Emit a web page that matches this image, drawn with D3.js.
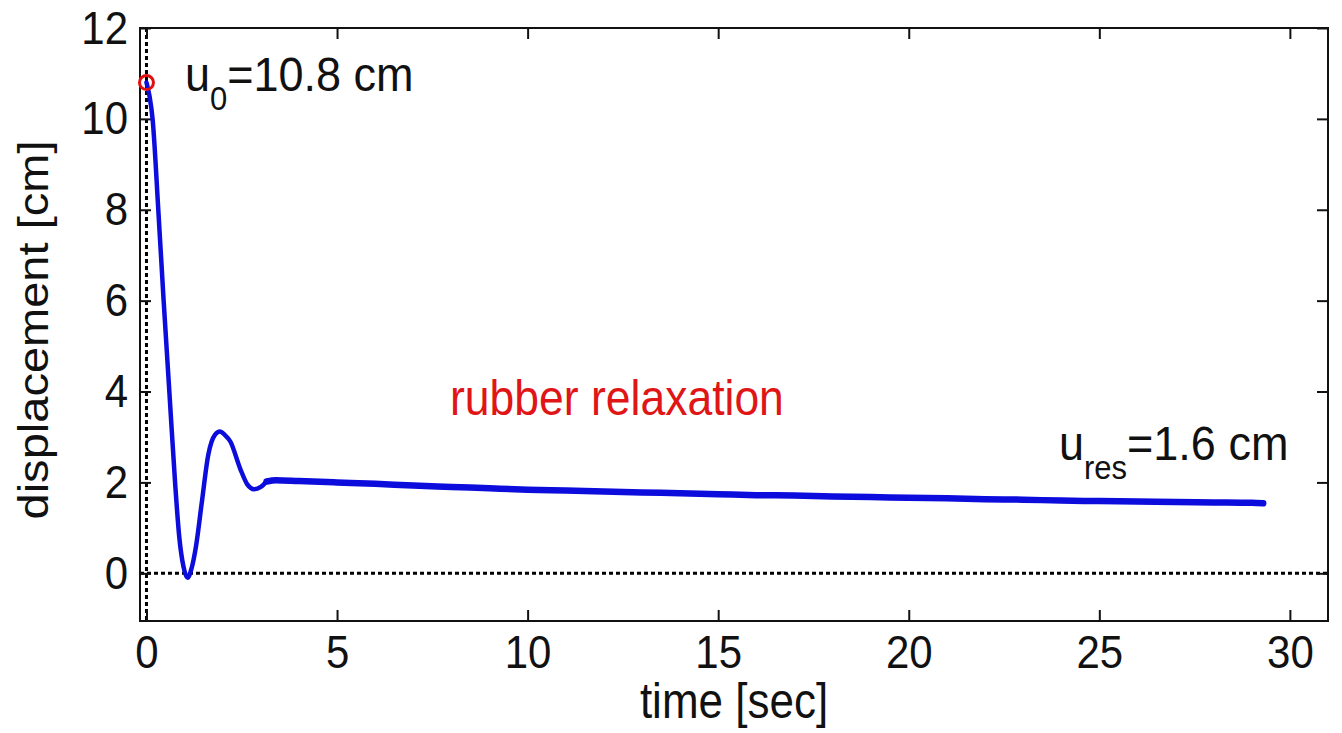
<!DOCTYPE html>
<html>
<head>
<meta charset="utf-8">
<script src="https://cdn.jsdelivr.net/npm/d3@7"></script>
<style>
  body { margin: 0; background: #fff; }
  text { font-family: "Liberation Sans", Arial, sans-serif; fill: #111; }
</style>
</head>
<body>
<div id="chart-area"></div>
<script>
// values
const time = [0, 0.08, 0.16, 0.31, 0.45, 0.60, 0.75, 0.86, 0.97, 1.08, 1.18, 1.30, 1.45, 1.62, 1.80, 1.93,
    2.05, 2.20, 2.46, 2.65, 2.82, 3.0, 3.15, 3.4, 4, 5, 6, 7, 8, 9, 10, 11, 12, 13, 14, 15, 16, 17, 18,
    19, 20, 21, 22, 23, 24, 25, 26, 27, 28, 29, 29.3];
const displacement = [10.8, 10.5, 10.0, 8.0, 6.0, 4.0, 2.0, 0.8, 0.15, -0.1, 0.1, 0.6, 1.55, 2.6, 3.05, 3.12,
    3.05, 2.9, 2.3, 1.95, 1.85, 1.9, 2.02, 2.05, 2.03, 2.0, 1.97, 1.93, 1.9, 1.87, 1.84, 1.82, 1.8, 1.78,
    1.76, 1.74, 1.72, 1.71, 1.69, 1.68, 1.66, 1.65, 1.63, 1.62, 1.6, 1.59, 1.58, 1.57, 1.56, 1.55, 1.54];
const xTicks = [0, 5, 10, 15, 20, 25, 30];
const yTicks = [0, 2, 4, 6, 8, 10, 12];
const startPoint = [0, 10.8];
const settleIndex = 22; // from here on the trace is a noisy band

const w = 1342;
const h = 733;
const plotLeft = 140, plotRight = 1328, plotTop = 28, plotBottom = 621;
const stretch = "scale(1,1.12)";

const xScale = d3.scaleLinear().domain([-0.17, 31.0]).range([plotLeft, plotRight]);
const yScale = d3.scaleLinear().domain([-1.05, 12]).range([plotBottom, plotTop]);

const svg = d3.select("#chart-area")
    .append("svg")
    .attr("width", w)
    .attr("height", h);

// dotted zero lines
svg.append("line")
    .attr("x1", xScale(0)).attr("x2", xScale(0))
    .attr("y1", plotTop).attr("y2", plotBottom)
    .attr("stroke", "#000").attr("stroke-width", 3).attr("stroke-dasharray", "4,3");
svg.append("line")
    .attr("x1", plotLeft).attr("x2", plotRight)
    .attr("y1", yScale(0)).attr("y2", yScale(0))
    .attr("stroke", "#000").attr("stroke-width", 3).attr("stroke-dasharray", "4,3");

// axes, ticks pointing inward
const tick = 11;
const gx = svg.append("g")
    .attr("transform", "translate(0," + plotBottom + ")")
    .call(d3.axisBottom(xScale).tickValues(xTicks).tickSizeInner(-tick).tickSizeOuter(0).tickPadding(0));
gx.selectAll("text")
    .attr("y", null).attr("dy", null)
    .attr("transform", "translate(0,47) " + stretch)
    .style("font-size", "42px");

const gy = svg.append("g")
    .attr("transform", "translate(" + plotLeft + ",0)")
    .call(d3.axisLeft(yScale).tickValues(yTicks).tickSizeInner(-tick).tickSizeOuter(0).tickPadding(12));
gy.selectAll("text")
    .attr("transform", stretch)
    .style("font-size", "42px");

svg.append("g")
    .attr("transform", "translate(0," + plotTop + ")")
    .call(d3.axisTop(xScale).tickValues(xTicks).tickSizeInner(-tick).tickSizeOuter(0).tickFormat(""));
svg.append("g")
    .attr("transform", "translate(" + plotRight + ",0)")
    .call(d3.axisRight(yScale).tickValues(yTicks).tickSizeInner(-tick).tickSizeOuter(0).tickFormat(""));

svg.selectAll(".domain").remove();
svg.selectAll(".tick line").attr("stroke", "#111").attr("stroke-width", 2);

svg.append("rect")
    .attr("x", plotLeft).attr("y", plotTop)
    .attr("width", plotRight - plotLeft).attr("height", plotBottom - plotTop)
    .attr("fill", "none").attr("stroke", "#111").attr("stroke-width", 2);

// measured curve
const points = displacement.map((d, i) => [time[i], d]);
const line = d3.line()
    .x((d) => xScale(d[0]))
    .y((d) => yScale(d[1]))
    .curve(d3.curveMonotoneX);

svg.append("path")
    .datum(points.slice(0, settleIndex + 1))
    .attr("d", line)
    .attr("fill", "none")
    .attr("stroke", "#0c0cdc")
    .attr("stroke-width", 4.5)
    .attr("stroke-linejoin", "round")
    .attr("stroke-linecap", "round");

svg.append("path")
    .datum(points.slice(settleIndex))
    .attr("d", line)
    .attr("fill", "none")
    .attr("stroke", "#0c0cdc")
    .attr("stroke-width", 6.5)
    .attr("stroke-linejoin", "round")
    .attr("stroke-linecap", "round");

svg.append("circle")
    .attr("cx", xScale(startPoint[0]))
    .attr("cy", yScale(startPoint[1]))
    .attr("r", 7)
    .attr("fill", "none")
    .attr("stroke", "#e01010")
    .attr("stroke-width", 3);

// annotations
const u0 = svg.append("text")
    .attr("transform", "translate(185,91) scale(1,1.05)")
    .style("font-size", "45px");
u0.append("tspan").text("u");
u0.append("tspan").attr("dy", 18).style("font-size", "31px").text("0");
u0.append("tspan").attr("dy", -18).text("=10.8 cm");

const ures = svg.append("text")
    .attr("transform", "translate(1059,460) scale(1,1.05)")
    .style("font-size", "45px");
ures.append("tspan").text("u");
ures.append("tspan").attr("dy", 18).style("font-size", "31px").text("res");
ures.append("tspan").attr("dy", -18).text("=1.6 cm");

svg.append("text")
    .attr("transform", "translate(450,415) " + stretch)
    .style("font-size", "44.5px")
    .style("fill", "#e01515")
    .text("rubber relaxation");

svg.append("text")
    .attr("transform", "translate(" + ((plotLeft + plotRight) / 2) + ",718) " + stretch)
    .attr("text-anchor", "middle")
    .style("font-size", "44px")
    .text("time [sec]");

svg.append("text")
    .attr("transform", "translate(48,330) rotate(-90) scale(1.12,1)")
    .attr("text-anchor", "middle")
    .style("font-size", "42px")
    .text("displacement [cm]");
</script>
</body>
</html>
